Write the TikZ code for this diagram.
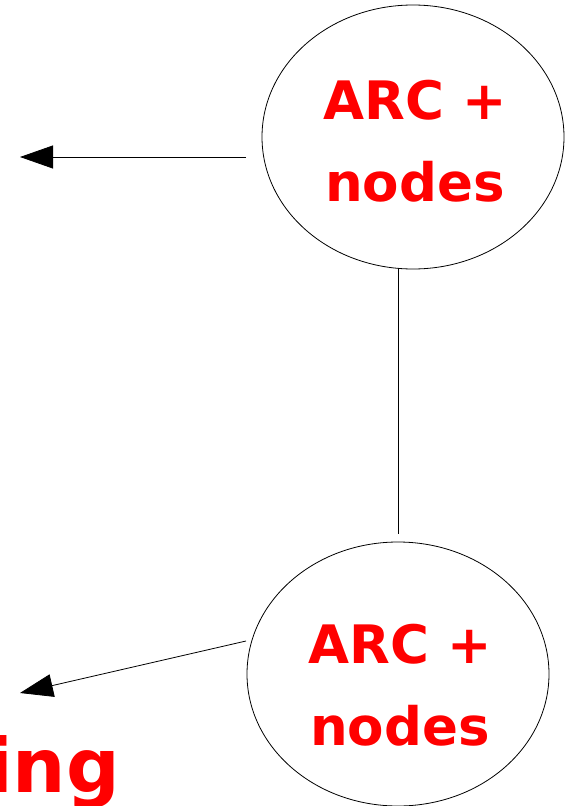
\documentclass[tikz,border=0pt]{standalone}
\usepackage{fontspec}
\setmainfont{DejaVu Sans}
\usetikzlibrary{shapes.geometric,arrows.meta}
\begin{document}
\begin{tikzpicture}[x=1pt,y=-1pt,
    blob/.style={ellipse,draw,line width=0.8pt,minimum width=302pt,minimum height=264pt,inner sep=0pt},
    tag/.style={inner sep=0pt,text=red,font=\fontsize{53}{82}\selectfont\bfseries,align=center},
    link/.style={-{Triangle[length=33pt,width=23pt]},line width=0.8pt}]
    \useasboundingbox (0,0) rectangle (576,806);
    \node[blob] (arctop) at (413,137) {};
    \node[blob] (arcbot) at (398,674) {};
    \node[tag] (toptext) at ([shift={(2,4)}]arctop.center) {ARC +\\nodes};
    \node[tag] (bottext) at ([shift={(2,11)}]arcbot.center) {ARC +\\nodes};
    \node[anchor=base west,inner sep=0pt,text=red,font=\fontsize{75}{90}\selectfont\bfseries] (tail) at (-13,792) {ing};
    \coordinate (out1) at (246,157);
    \coordinate (in1) at (20,157);
    \coordinate (out2) at (246,641);
    \coordinate (in2) at (20,693);
    \coordinate (join) at ([yshift=8pt]arcbot.north);
    \draw[link] (out1) -- (in1);
    \draw[link] (out2) -- (in2);
    \draw[line width=0.8pt] (join) -- (join |- arctop.south);
\end{tikzpicture}
\end{document}
